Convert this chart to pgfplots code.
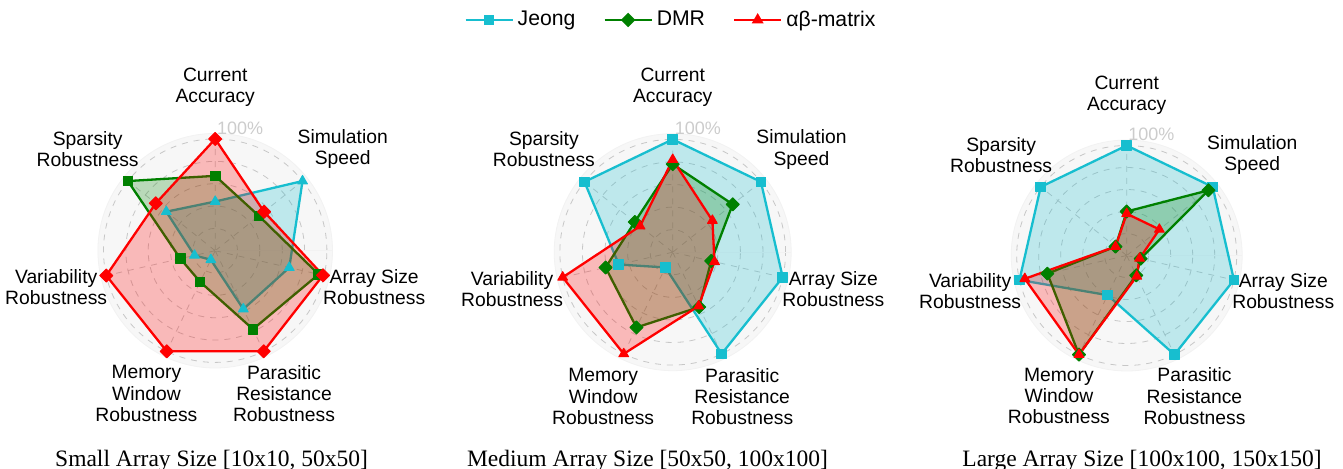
\documentclass[border=0pt]{standalone}
\usepackage{pgfplots}
\pgfplotsset{compat=1.18}
\usepgfplotslibrary{polar}
\usepackage{fontspec}
\setmainfont{Liberation Sans}
\newfontfamily\capfont{Liberation Serif}
\definecolor{cyanc}{HTML}{17BECF}
\definecolor{greenc}{HTML}{008000}
\definecolor{redc}{HTML}{FF0000}
\definecolor{diskc}{HTML}{F7F7F7}
\newcommand\lblfont{\fontsize{9.65bp}{10.6bp}\selectfont}
\newcommand\radarlabels{%
  \node[align=center,font=\lblfont] at (axis cs:90,1.46) {Current\\Accuracy};
  \node[align=center,font=\lblfont] at (axis cs:38.571,1.46) {Simulation\\Speed};
  \node[align=center,font=\lblfont] at (axis cs:347.143,1.46) {Array Size\\Robustness};
  \node[align=center,font=\lblfont] at (axis cs:295.714,1.42) {Parasitic\\Resistance\\Robustness};
  \node[align=center,font=\lblfont] at (axis cs:244.286,1.42) {Memory\\Window\\Robustness};
  \node[align=center,font=\lblfont] at (axis cs:192.857,1.46) {Variability\\Robustness};
  \node[align=center,font=\lblfont] at (axis cs:141.429,1.46) {Sparsity\\Robustness};
  \node[font=\fontsize{9bp}{10bp}\selectfont, text=black!20] at (axis cs:78.5,1.12) {100\%};
}
\pgfplotsset{
  radar/.style={
    anchor=center, scale only axis,
    ymin=0, ymax=1.05, xmin=0, xmax=360,
    xtick={90,38.571,347.143,295.714,244.286,192.857,141.429},
    xticklabels={,,,,,,},
    ytick={0.2,0.4,0.6,0.8,1.0},
    yticklabels={,,,,},
    major tick length=0pt,
    grid=major,
    major grid style={dashed, black!22, line width=0.4bp},
    axis line style={draw=black!5},
    axis background/.style={fill=diskc},
    clip=false,
  },
  ser/.style={draw=#1, fill=#1, fill opacity=0.25, line width=1.15bp, line join=round,
    mark options={solid, fill=#1, fill opacity=1, draw=#1, line width=0.5bp}},
  msq/.style={mark=square*, mark size=2.4bp},
  mdi/.style={mark=square*, mark size=2.3bp, every mark/.append style={rotate=45}},
  mtr/.style={mark=triangle*, mark size=2.8bp},
}
\begin{document}
\begin{tikzpicture}
\useasboundingbox (0,0) rectangle (671.5bp,234.5bp);
% ---------------- Small ----------------
\begin{polaraxis}[radar, at={(107.6bp,109.15bp)}, width=117.3bp, height=117.3bp]
\addplot[ser=cyanc, mtr] coordinates {(90,0.44) (38.571,1.0) (347.143,0.68) (295.714,0.58) (244.286,0.09) (192.857,0.19) (141.429,0.56)} --cycle;
\addplot[ser=greenc, msq] coordinates {(90,0.67) (38.571,0.50) (347.143,0.95) (295.714,0.78) (244.286,0.31) (192.857,0.32) (141.429,1.0)} --cycle;
\addplot[ser=redc, mdi] coordinates {(90,1.0) (38.571,0.56) (347.143,0.99) (295.714,1.0) (244.286,1.0) (192.857,1.0) (141.429,0.68)} --cycle;
\radarlabels
\end{polaraxis}
% ---------------- Medium ----------------
\begin{polaraxis}[radar, at={(336.35bp,108.4bp)}, width=118.5bp, height=118.5bp,
  legend columns=3,
  legend style={at={(axis description cs:0.497,1.48)}, anchor=center, draw=none, fill=none,
    font=\fontsize{10.6bp}{12bp}\selectfont,
    /tikz/every even column/.append style={column sep=12bp}},
  legend image code/.code={\draw[mark repeat=2, mark phase=2, #1] plot coordinates {(0bp,0bp) (11.75bp,0bp) (23.5bp,0bp)};}]
\addlegendimage{cyanc, line width=1.15bp, mark=square*, mark size=2bp, mark options={solid, fill=cyanc}}
\addlegendentry{Jeong}
\addlegendimage{greenc, line width=1.15bp, mark=square*, mark size=2bp, mark options={solid, fill=greenc, rotate=45}}
\addlegendentry{DMR}
\addlegendimage{redc, line width=1.15bp, mark=triangle*, mark size=2.3bp, mark options={solid, fill=redc}}
\addlegendentry{αβ-matrix}
\addplot[ser=cyanc, msq, forget plot] coordinates {(90,1.0) (38.571,1.0) (347.143,1.0) (295.714,1.0) (244.286,0.15) (192.857,0.49) (141.429,1.0)} --cycle;
\addplot[ser=greenc, mdi, forget plot] coordinates {(90,0.78) (38.571,0.68) (347.143,0.35) (295.714,0.54) (244.286,0.74) (192.857,0.61) (141.429,0.43)} --cycle;
\addplot[ser=redc, mtr, forget plot] coordinates {(90,0.82) (38.571,0.45) (347.143,0.38) (295.714,0.53) (244.286,1.0) (192.857,1.0) (141.429,0.37)} --cycle;
\radarlabels
\end{polaraxis}
% ---------------- Large ----------------
\begin{polaraxis}[radar, at={(563.35bp,106.75bp)}, width=115.5bp, height=115.5bp]
\addplot[ser=cyanc, msq] coordinates {(90,1.0) (38.571,1.0) (347.143,1.0) (295.714,1.0) (244.286,0.40) (192.857,1.0) (141.429,1.0)} --cycle;
\addplot[ser=greenc, mdi] coordinates {(90,0.40) (38.571,0.95) (347.143,0.13) (295.714,0.20) (244.286,1.0) (192.857,0.74) (141.429,0.13)} --cycle;
\addplot[ser=redc, mtr] coordinates {(90,0.38) (38.571,0.38) (347.143,0.12) (295.714,0.21) (244.286,1.0) (192.857,0.95) (141.429,0.13)} --cycle;
\radarlabels
\end{polaraxis}
% captions
\node[anchor=base, font=\capfont\fontsize{11.75bp}{13bp}\selectfont] at (105.75bp,1.5bp) {Small Array Size [10x10, 50x50]};
\node[anchor=base, font=\capfont\fontsize{11.75bp}{13bp}\selectfont] at (323.75bp,1.5bp) {Medium Array Size [50x50, 100x100]};
\node[anchor=base, font=\capfont\fontsize{11.75bp}{13bp}\selectfont] at (571bp,1.5bp) {Large Array Size [100x100, 150x150]};
\end{tikzpicture}
\end{document}
